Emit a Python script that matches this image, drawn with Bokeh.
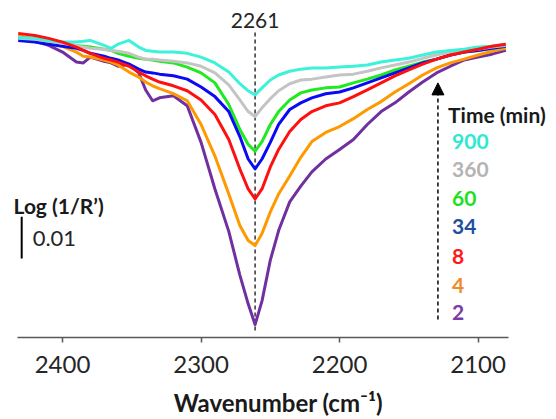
from bokeh.plotting import figure
from bokeh.models import Range1d, FixedTicker, Label, Arrow, NormalHead
from bokeh.embed import file_html
from bokeh.resources import INLINE

# Wavenumber grid (cm-1)
wavenumber = [2432, 2420, 2410, 2400, 2390, 2385, 2380, 2370, 2365, 2360, 2352, 2345, 2340, 2335,
              2330, 2320, 2310, 2300, 2290, 2280, 2272, 2266, 2261, 2256, 2250, 2244, 2236, 2228,
              2220, 2210, 2200, 2190, 2180, 2170, 2160, 2150, 2140, 2130, 2120, 2110, 2100, 2090, 2080]

# Log(1/R') in units of 0.001 (offset baseline), per time (min)
t900 = [72.1, 71.9, 71.4, 71.0, 71.0, 71.2, 71.4, 70.2, 69.5, 70.5, 71.4, 69.8, 69.0, 68.8,
        68.6, 68.6, 68.3, 67.4, 66.0, 63.8, 61.0, 59.3, 58.3, 60.0, 61.9, 63.1, 64.0, 64.5,
        64.8, 64.8, 65.0, 65.2, 65.5, 66.2, 66.7, 67.1, 67.9, 68.6, 69.0, 69.3, 69.8, 70.0, 70.5]
t360 = [71.9, 71.7, 71.2, 70.7, 70.2, 69.8, 69.5, 69.3, 69.0, 68.8, 68.3, 67.4, 66.9, 66.9,
        66.7, 66.4, 66.0, 65.2, 63.6, 60.7, 57.1, 54.3, 53.1, 55.2, 57.4, 59.3, 61.0, 61.9,
        62.1, 62.6, 63.1, 63.3, 64.0, 64.8, 65.5, 66.2, 67.1, 67.9, 68.6, 69.0, 69.3, 69.8, 70.2]
t60 = [72.1, 71.7, 71.2, 70.7, 70.2, 70.0, 69.8, 69.3, 69.0, 68.3, 67.6, 67.1, 66.9, 66.7,
       66.4, 66.0, 65.0, 63.6, 61.2, 56.0, 50.0, 46.4, 44.8, 47.1, 51.2, 54.3, 57.1, 58.8,
       59.5, 60.0, 60.2, 61.2, 62.1, 63.1, 64.3, 65.2, 66.2, 66.9, 67.9, 68.6, 69.0, 69.5, 70.0]
t34 = [71.4, 71.0, 70.5, 70.0, 69.5, 69.0, 68.3, 67.6, 67.1, 66.7, 65.7, 64.5, 63.8, 63.6,
       63.3, 62.9, 62.1, 60.2, 57.9, 54.3, 48.3, 42.9, 40.5, 42.9, 46.9, 51.2, 54.8, 56.4,
       57.6, 58.6, 59.0, 60.0, 61.2, 62.4, 63.6, 64.8, 66.0, 66.9, 67.9, 68.6, 69.0, 69.5, 70.0]
t8 = [73.1, 72.6, 71.9, 71.0, 69.8, 69.0, 68.3, 67.1, 66.7, 66.2, 65.2, 63.8, 62.9, 62.1,
      61.4, 60.5, 59.3, 57.1, 53.6, 47.6, 40.5, 35.7, 33.3, 35.7, 41.0, 45.2, 49.5, 52.4,
      54.3, 55.7, 56.4, 57.9, 59.5, 61.2, 62.9, 64.3, 65.7, 66.9, 67.9, 68.6, 69.3, 70.0, 70.5]
t4 = [72.6, 71.7, 70.7, 70.0, 68.6, 67.6, 67.4, 66.7, 66.2, 65.5, 63.8, 62.6, 61.4, 60.5,
      59.8, 58.6, 56.9, 51.2, 43.6, 34.5, 26.9, 23.3, 22.1, 25.0, 30.2, 34.5, 38.8, 43.3,
      47.1, 49.3, 50.7, 52.6, 54.8, 56.7, 59.0, 61.0, 63.1, 64.8, 66.0, 66.9, 67.9, 68.8, 69.5]
t2 = [71.9, 71.2, 70.2, 68.6, 66.2, 66.0, 67.4, 66.4, 66.0, 65.2, 65.7, 63.6, 59.5, 56.9,
      57.6, 58.1, 55.7, 46.9, 35.7, 25.5, 15.0, 8.1, 3.1, 8.8, 18.6, 25.7, 32.6, 36.4,
      39.8, 42.9, 45.2, 47.6, 51.2, 54.3, 56.4, 59.0, 61.4, 63.6, 65.2, 66.7, 67.4, 68.1, 69.0]

times = ["900", "360", "60", "34", "8", "4", "2"]
x_ticks = [2400, 2300, 2200, 2100]
peak = 2261

FONT = "Lato"

p = figure(width=556, height=419, output_backend="svg", toolbar_location=None,
           x_range=Range1d(2444.8, 2043.4), y_range=Range1d(0, 81),
           min_border_left=0, min_border_right=0, min_border_top=0, min_border_bottom=79)
p.outline_line_color = None
p.xgrid.visible = False
p.ygrid.visible = False
p.yaxis.visible = False
p.background_fill_color = "white"
p.border_fill_color = "white"

xa = p.xaxis[0]
xa.ticker = FixedTicker(ticks=x_ticks)
xa.bounds = (2078, 2432.5)
xa.axis_line_color = "#595959"
xa.axis_line_width = 1.5
xa.major_tick_line_color = "#595959"
xa.major_tick_line_width = 1.5
xa.major_tick_out = 5
xa.major_tick_in = 0
xa.minor_tick_line_color = None
xa.major_label_text_font = FONT
xa.major_label_text_font_size = "24px"
xa.major_label_text_color = "#262626"
xa.major_label_standoff = 13
xa.axis_label = "Wavenumber (cm\u207b\u00b9)"
xa.axis_label_text_font = FONT
xa.axis_label_text_font_size = "24px"
xa.axis_label_text_font_style = "bold"
xa.axis_label_text_color = "#1a1a1a"
xa.axis_label_standoff = 12

# dashed line at the peak
p.segment(x0=[peak], y0=[1.7], x1=[peak], y1=[73.8], line_color="#333333",
          line_width=1.5, line_dash="4 3")

series = [(t2, "#7030A0"), (t4, "#FF9900"), (t60, "#1FEA1F"), (t34, "#0A0AF5"),
          (t360, "#C4C4C4"), (t900, "#3CF2D8"), (t8, "#FF1010")]
for ys, col in series:
    p.line(wavenumber, ys, line_color=col, line_width=3, line_join="round")

p.add_layout(Label(x=peak, y=76.2, text=str(peak), text_font=FONT, text_font_size="21px",
                   text_align="center", text_baseline="middle", text_color="#262626"))

# scale bar
p.segment(x0=[2429.5], y0=[19], x1=[2429.5], y1=[29], line_color="black", line_width=2)
p.add_layout(Label(x=2421.6, y=23.8, text="0.01", text_font=FONT, text_font_size="22px",
                   text_baseline="middle", text_color="#262626"))
p.add_layout(Label(x=2435.4, y=31.7, text="Log (1/R\u2019)", text_font=FONT,
                   text_font_size="21px", text_font_style="bold", text_baseline="middle",
                   text_color="#1a1a1a"))

# time arrow
p.add_layout(Arrow(x_start=2129, y_start=4.3, x_end=2129, y_end=61.2, line_color="black",
                   line_width=1.5, line_dash="4 3",
                   end=NormalHead(size=12, fill_color="black", line_color="black")))
p.add_layout(Label(x=2121.7, y=53.6, text="Time (min)", text_font=FONT, text_font_size="21px",
                   text_font_style="bold", text_baseline="middle", text_color="#1a1a1a"))
label_colors = ["#2EE8D2", "#B4B4B4", "#1FE01F", "#1F4FA0", "#FF1A1A", "#EE8A2A", "#7A3AA8"]
label_y = [47.1, 40.5, 33.3, 26.7, 19.5, 12.6, 6.0]
for t, c, yy in zip(times, label_colors, label_y):
    p.add_layout(Label(x=2118.8, y=yy, text=t, text_font=FONT, text_font_size="21px",
                       text_font_style="bold", text_baseline="middle", text_color=c))

open("out.html", "w").write(file_html(p, INLINE))
